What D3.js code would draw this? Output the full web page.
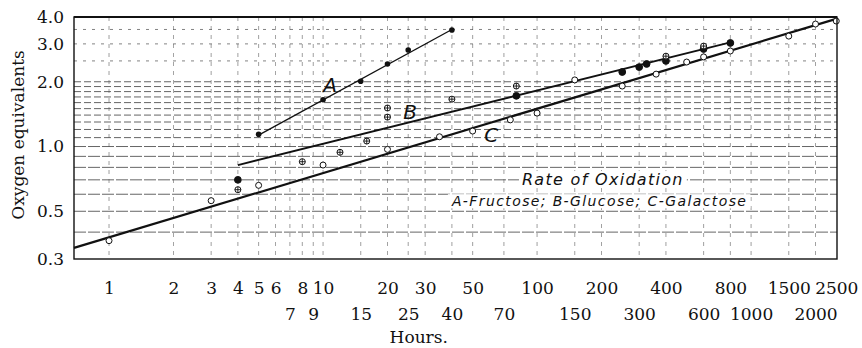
<!DOCTYPE html>
<html>
<head>
<meta charset="utf-8">
<script src="https://cdn.jsdelivr.net/npm/d3@7"></script>
<style>
  body { margin: 0; background: #fff; }
  svg { display: block; }
  .tick text { font-family: "DejaVu Serif", serif; fill: #111; }
</style>
</head>
<body>
<div id="chart"></div>
<script>
// Tick labels (two staggered rows on the hours axis)
var hourTicksTop = [1, 2, 3, 4, 5, 6, 8, 10, 20, 30, 50, 100, 200, 400, 800, 1500, 2500];
var hourTicksBottom = [7, 9, 15, 25, 40, 70, 150, 300, 600, 1000, 2000];
var oxyTicks = [0.3, 0.5, 1.0, 2.0, 3.0, 4.0];

// Grid rulings of the log paper
var hourGrid = [1, 2, 3, 4, 5, 6, 7, 8, 9, 10, 15, 20, 25, 30, 40, 50, 70, 100, 150, 200, 300, 400, 600, 800, 1000, 1500, 2000];
var oxyGrid = [0.4, 0.5, 0.6, 0.7, 0.8, 0.9, 1.0, 1.1, 1.2, 1.3, 1.4, 1.5, 1.6, 1.7, 1.8, 1.9, 2.0, 2.5, 3.0, 3.5];

// A - Fructose
var hoursA = [5, 10, 15, 20, 25, 40];
var valuesA = [1.14, 1.65, 2.01, 2.42, 2.81, 3.48];
var lineHoursA = [5, 40];
var lineValuesA = [1.13, 3.5];

// B - Glucose
var hoursB = [4, 4, 8, 12, 16, 20, 20, 40, 80, 80, 150, 250, 300, 325, 400, 400, 600, 600, 800];
var valuesB = [0.70, 0.63, 0.85, 0.94, 1.06, 1.51, 1.37, 1.66, 1.72, 1.91, 2.04, 2.22, 2.34, 2.42, 2.50, 2.63, 2.84, 2.93, 3.03];
var marksB = ["filled", "cross", "cross", "cross", "cross", "cross", "cross", "cross", "filled", "cross", "open", "filled", "filled", "filled", "filled", "cross", "filled", "cross", "filled"];
var lineHoursB = [4, 800];
var lineValuesB = [0.82, 3.05];

// C - Galactose
var hoursC = [1, 3, 5, 10, 20, 35, 50, 75, 100, 250, 360, 500, 600, 800, 1500, 2000, 2500];
var valuesC = [0.365, 0.56, 0.66, 0.82, 0.97, 1.11, 1.18, 1.33, 1.43, 1.91, 2.17, 2.47, 2.61, 2.78, 3.26, 3.71, 3.83];
var lineHoursC = [0.686, 2500];
var lineValuesC = [0.338, 3.92];

// Curve letters: [label, hours, value]
var letters = [["A", 10.8, 1.93], ["B", 25.5, 1.44], ["C", 61, 1.13]];

var svgWidth = 862;
var svgHeight = 348;

var margin = { top: 17, right: 25, bottom: 89, left: 74 };
var width = svgWidth - margin.left - margin.right;
var height = svgHeight - margin.top - margin.bottom;

var svg = d3.select("#chart")
  .append("svg")
  .attr("width", svgWidth)
  .attr("height", svgHeight);

var chartGroup = svg.append("g")
  .attr("transform", `translate(${margin.left}, ${margin.top})`);

// Scales (log-log)
var xScale = d3.scaleLog().domain([0.686, 2520]).range([0, width]);
var yScale = d3.scaleLog().domain([0.3, 4.0]).range([height, 0]);

// Horizontal rulings
chartGroup.selectAll(".hgrid")
  .data(oxyGrid)
  .enter()
  .append("line")
  .attr("x1", 0)
  .attr("x2", width)
  .attr("y1", d => yScale(d))
  .attr("y2", d => yScale(d))
  .attr("stroke", "#333")
  .attr("stroke-width", 1)
  .attr("stroke-dasharray", d => d > 2.0 ? "3,6" : (d > 1.0 ? "7,3" : "12,2"))
  .attr("opacity", d => d > 2.0 ? 0.6 : 0.75);

// Vertical rulings
chartGroup.selectAll(".vgrid")
  .data(hourGrid)
  .enter()
  .append("line")
  .attr("x1", d => xScale(d))
  .attr("x2", d => xScale(d))
  .attr("y1", 0)
  .attr("y2", height)
  .attr("stroke", "#555")
  .attr("stroke-width", 0.8)
  .attr("stroke-dasharray", "4,5")
  .attr("opacity", 0.7);

// Annotation block with white backing
var note = chartGroup.append("g");
var noteLines = [
  { text: "Rate of Oxidation", h: 85, v: 0.662, size: "16px", spacing: "1.3px" },
  { text: "A-Fructose; B-Glucose; C-Galactose", h: 40, v: 0.528, size: "14px", spacing: "1.4px" }
];
noteLines.forEach(function(n) {
  var t = note.append("text")
    .attr("x", xScale(n.h))
    .attr("y", yScale(n.v))
    .style("font-family", "'DejaVu Sans', sans-serif")
    .style("font-style", "italic")
    .style("font-size", n.size)
    .style("letter-spacing", n.spacing)
    .attr("fill", "#111")
    .text(n.text);
  var bb = t.node().getBBox();
  note.insert("rect", "text")
    .attr("x", bb.x - 3)
    .attr("y", bb.y + 1)
    .attr("width", bb.width + 6)
    .attr("height", bb.height - 2)
    .attr("fill", "#fff");
});

// Fitted lines
var line = d3.line()
  .x(d => xScale(d[0]))
  .y(d => yScale(d[1]));

var fits = [
  { h: lineHoursA, v: lineValuesA, w: 1.3 },
  { h: lineHoursB, v: lineValuesB, w: 1.8 },
  { h: lineHoursC, v: lineValuesC, w: 2.2 }
];

fits.forEach(function(f) {
  chartGroup.append("path")
    .datum(d3.zip(f.h, f.v))
    .attr("d", line)
    .attr("fill", "none")
    .attr("stroke", "#111")
    .attr("stroke-width", f.w);
});

// Points A (filled)
chartGroup.selectAll(".ptA")
  .data(d3.zip(hoursA, valuesA))
  .enter()
  .append("circle")
  .attr("cx", d => xScale(d[0]))
  .attr("cy", d => yScale(d[1]))
  .attr("r", 2.8)
  .attr("fill", "#111");

// Points B (mixed symbols)
var ptsB = chartGroup.selectAll(".ptB")
  .data(d3.zip(hoursB, valuesB, marksB))
  .enter()
  .append("g")
  .attr("transform", d => `translate(${xScale(d[0])}, ${yScale(d[1])})`);

ptsB.append("circle")
  .attr("r", d => d[2] === "filled" ? 3.4 : 3)
  .attr("fill", d => d[2] === "filled" ? "#111" : "#fff")
  .attr("stroke", "#111")
  .attr("stroke-width", 1);

ptsB.filter(d => d[2] === "cross")
  .append("path")
  .attr("d", "M-3,0H3M0,-3V3")
  .attr("stroke", "#111")
  .attr("stroke-width", 0.9);

// Points C (open)
chartGroup.selectAll(".ptC")
  .data(d3.zip(hoursC, valuesC))
  .enter()
  .append("circle")
  .attr("cx", d => xScale(d[0]))
  .attr("cy", d => yScale(d[1]))
  .attr("r", 3)
  .attr("fill", "#fff")
  .attr("stroke", "#111")
  .attr("stroke-width", 1);

// Curve letters
chartGroup.selectAll(".letter")
  .data(letters)
  .enter()
  .append("text")
  .attr("x", d => xScale(d[1]))
  .attr("y", d => yScale(d[2]))
  .attr("text-anchor", "middle")
  .attr("dy", "0.35em")
  .style("font-family", "'DejaVu Sans', sans-serif")
  .style("font-style", "italic")
  .style("font-size", "20px")
  .attr("fill", "#111")
  .text(d => d[0]);

// Frame
chartGroup.append("rect")
  .attr("x", 0)
  .attr("y", 0)
  .attr("width", width)
  .attr("height", height)
  .attr("fill", "none")
  .attr("stroke", "#111")
  .attr("stroke-width", 1.4);
chartGroup.append("line")
  .attr("x1", 0).attr("x2", width)
  .attr("y1", 0).attr("y2", 0)
  .attr("stroke", "#111")
  .attr("stroke-width", 2.2);

// Axes
var topAxis = d3.axisBottom(xScale)
  .tickValues(hourTicksTop)
  .tickSize(0)
  .tickPadding(23)
  .tickFormat(d3.format("d"));
var lowAxis = d3.axisBottom(xScale)
  .tickValues(hourTicksBottom)
  .tickSize(0)
  .tickPadding(49)
  .tickFormat(d3.format("d"));
var leftAxis = d3.axisLeft(yScale)
  .tickValues(oxyTicks)
  .tickSize(0)
  .tickPadding(10)
  .tickFormat(d3.format(".1f"));

[topAxis, lowAxis].forEach(function(ax) {
  var g = chartGroup.append("g")
    .attr("transform", `translate(0, ${height})`)
    .call(ax);
  g.select(".domain").remove();
  g.selectAll("text").style("font-size", "17px");
});

var yAxisGroup = chartGroup.append("g").call(leftAxis);
yAxisGroup.select(".domain").remove();
yAxisGroup.selectAll("text").style("font-size", "17px");

// Axis titles
chartGroup.append("text")
  .attr("x", xScale(28))
  .attr("y", height + 84)
  .attr("text-anchor", "middle")
  .style("font-family", "'DejaVu Serif', serif")
  .style("font-size", "17px")
  .attr("fill", "#111")
  .text("Hours.");

chartGroup.append("text")
  .attr("transform", "rotate(-90)")
  .attr("x", -118)
  .attr("y", -margin.left + 24)
  .attr("text-anchor", "middle")
  .style("font-family", "'DejaVu Serif', serif")
  .style("font-size", "17px")
  .attr("fill", "#111")
  .text("Oxygen equivalents");
</script>
</body>
</html>
